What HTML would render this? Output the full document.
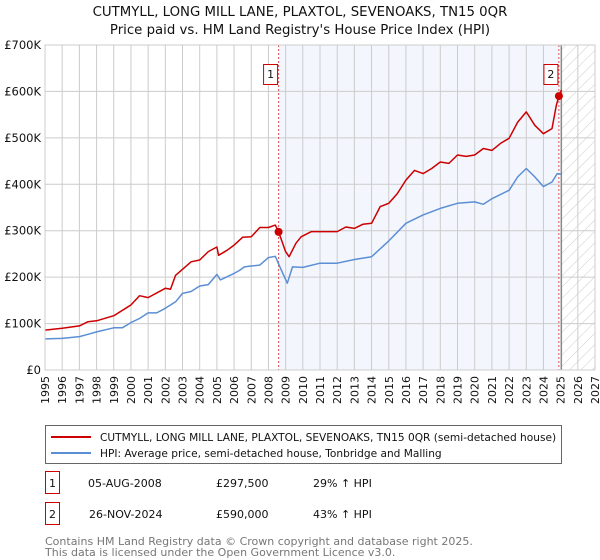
<!DOCTYPE html>
<html><head><meta charset="utf-8"><style>
body{margin:0;background:#fff;}
svg{display:block;font-family:"DejaVu Sans","Liberation Sans",sans-serif;}
</style></head><body>
<svg id="c" width="600" height="560" viewBox="0 0 600 560">
<defs><pattern id="hatch" width="8" height="8" patternUnits="userSpaceOnUse" patternTransform="rotate(45)"><line x1="0" y1="0" x2="0" y2="8" stroke="#ccc" stroke-width="1"/></pattern></defs>
<text x="300" y="16" text-anchor="middle" font-size="13.3" fill="#111">CUTMYLL, LONG MILL LANE, PLAXTOL, SEVENOAKS, TN15 0QR</text>
<text x="300" y="34" text-anchor="middle" font-size="13.3" fill="#111">Price paid vs. HM Land Registry's House Price Index (HPI)</text>
<g id="plot"></g>
<g>
<rect x="45.5" y="425.5" width="516" height="38" fill="#fff" stroke="#666"/>
<line x1="51" y1="437" x2="91" y2="437" stroke="#cc0000" stroke-width="2"/>
<text x="100" y="441" font-size="10.6" fill="#111">CUTMYLL, LONG MILL LANE, PLAXTOL, SEVENOAKS, TN15 0QR (semi-detached house)</text>
<line x1="51" y1="453" x2="91" y2="453" stroke="#5b8fd4" stroke-width="2"/>
<text x="100" y="457" font-size="10.6" fill="#111">HPI: Average price, semi-detached house, Tonbridge and Malling</text>
</g>
<g font-size="11" fill="#111">
<rect x="45.5" y="471.5" width="14" height="22" fill="#fff" stroke="#cc0000"/>
<text x="52.5" y="487" text-anchor="middle">1</text>
<text x="88" y="487">05-AUG-2008</text>
<text x="216" y="487">£297,500</text>
<text x="313" y="487">29% ↑ HPI</text>
<rect x="45.5" y="502.5" width="14" height="22" fill="#fff" stroke="#cc0000"/>
<text x="52.5" y="518" text-anchor="middle">2</text>
<text x="89" y="518">26-NOV-2024</text>
<text x="216" y="518">£590,000</text>
<text x="313" y="518">43% ↑ HPI</text>
</g>
<text x="45" y="545" font-size="11" fill="#777">Contains HM Land Registry data © Crown copyright and database right 2025.</text>
<text x="45" y="556" font-size="11" fill="#777">This data is licensed under the Open Government Licence v3.0.</text>
</svg>
<script>
const yearTicks=[1995,1996,1997,1998,1999,2000,2001,2002,2003,2004,2005,2006,2007,2008,2009,2010,2011,2012,2013,2014,2015,2016,2017,2018,2019,2020,2021,2022,2023,2024,2025,2026,2027];
const valueTicks=[0,100,200,300,400,500,600,700];
const valueTickLabels=["£0","£100K","£200K","£300K","£400K","£500K","£600K","£700K"];
const hpiYears=[1995,1996,1997,1997.5,1998,1999,1999.5,2000,2000.5,2001,2001.5,2002,2002.3,2002.6,2003,2003.5,2004,2004.5,2005,2005.2,2005.6,2006,2006.3,2006.6,2007,2007.5,2008,2008.4,2008.7,2009.1,2009.4,2010,2011,2012,2013,2014,2015,2016,2017,2018,2019,2020,2020.5,2021,2022,2022.5,2023,2023.5,2024,2024.5,2024.8,2025.05];
const hpiValues=[67,68,72,77,82,91,91,102,111,123,123,133,140,147,165,169,181,184,206,194,201,208,214,222,224,226,242,245,219,187,222,221,230,230,238,244,278,316,334,348,359,362,357,369,387,416,434,416,395,405,423,422];
const priceYears=[1995,1996,1997,1997.5,1998,1999,2000,2000.5,2001,2002,2002.3,2002.6,2003,2003.5,2004,2004.5,2005,2005.1,2005.6,2006,2006.5,2007,2007.5,2008,2008.4,2008.59,2009.0,2009.2,2009.6,2009.9,2010.5,2011,2012,2012.5,2013,2013.5,2014,2014.5,2015,2015.5,2016,2016.5,2017,2017.5,2018,2018.5,2019,2019.5,2020,2020.5,2021,2021.5,2022,2022.5,2023,2023.5,2024,2024.5,2024.75,2024.9,2025.05];
const priceValues=[86,90,95,104,106,117,140,160,156,176,174,204,217,233,237,255,265,247,258,269,286,287,307,307,312,297.5,255,244,273,287,298,298,298,308,305,314,316,352,359,380,409,430,423,434,448,445,463,460,463,477,473,488,499,534,556,527,509,520,570,590,603];
const saleYears=[2008.59,2024.9];
const saleValues=[297.5,590];
const saleLabels=["1","2"];

const X0=45,X1=595,Y0=370,Y1=45;
const xs=y=>X0+(y-1995)/(2027-1995)*(X1-X0);
const ys=v=>Y0-v/700*(Y0-Y1);
const NS="http://www.w3.org/2000/svg";
const g=document.getElementById('plot');
function mk(t,a,p){const e=document.createElementNS(NS,t);for(const k in a)e.setAttribute(k,a[k]);(p||g).appendChild(e);return e;}

const shade=mk('rect',{x:xs(saleYears[0]),y:Y1,width:xs(saleYears[1])-xs(saleYears[0]),height:Y0-Y1,fill:'#f3f6fd'});


const hatch=mk('rect',{x:xs(2025.05),y:Y1,width:X1-xs(2025.05),height:Y0-Y1,fill:'url(#hatch)'});



yearTicks.forEach(yr=>{
  const l=mk('line',{x1:xs(yr),x2:xs(yr),y1:Y1,y2:Y0,stroke:'#ccc','stroke-width':1});
  
  
  const t=mk('text',{x:0,y:0,'font-size':11,fill:'#111','text-anchor':'end',transform:'translate('+(xs(yr)+4)+','+(Y0+6)+') rotate(-90)'});
  t.textContent=yr;
  
  
});
valueTicks.forEach((v,i)=>{
  const l=mk('line',{x1:X0,x2:X1,y1:ys(v),y2:ys(v),stroke:'#ccc','stroke-width':1});
  
  
  const t=mk('text',{x:X0-4,y:ys(v)+4,'font-size':11.5,fill:'#111','text-anchor':'end'});
  t.textContent=valueTickLabels[i];
  
  
});
const nowLine=mk('line',{x1:xs(2025.05),x2:xs(2025.05),y1:Y1,y2:Y0,stroke:'#888','stroke-width':1.2});



saleYears.forEach((yr,i)=>{
  const l=mk('line',{x1:xs(yr),x2:xs(yr),y1:Y1,y2:Y0,stroke:'#e05050','stroke-width':1,'stroke-dasharray':'2,2'});
  
  
});

function path(xa,va,col,name){
  const d=xa.map((x,i)=>(i?'L':'M')+xs(x).toFixed(1)+','+ys(va[i]).toFixed(1)).join('');
  const p=mk('path',{d:d,fill:'none',stroke:col,'stroke-width':1.5,'stroke-linejoin':'round'});
  
  
}
path(hpiYears,hpiValues,'#5b8fd4','hpi-line');
path(priceYears,priceValues,'#cc0000','property-price-line');

saleYears.forEach((yr,i)=>{
  const c=mk('circle',{cx:xs(yr),cy:ys(saleValues[i]),r:4,fill:'#cc0000'});
  
  
  const bx=xs(yr)-15;
  const r=mk('rect',{x:bx,y:64.5,width:14,height:20,fill:'#fff',stroke:'#cc0000'});
  
  
  const t=mk('text',{x:bx+7,y:78,'font-size':11,fill:'#111','text-anchor':'middle'});
  t.textContent=saleLabels[i];
  
  
});
const frame=mk('rect',{x:X0,y:Y1,width:X1-X0,height:Y0-Y1,fill:'none',stroke:'#ccc'});


</script>
</body></html>
